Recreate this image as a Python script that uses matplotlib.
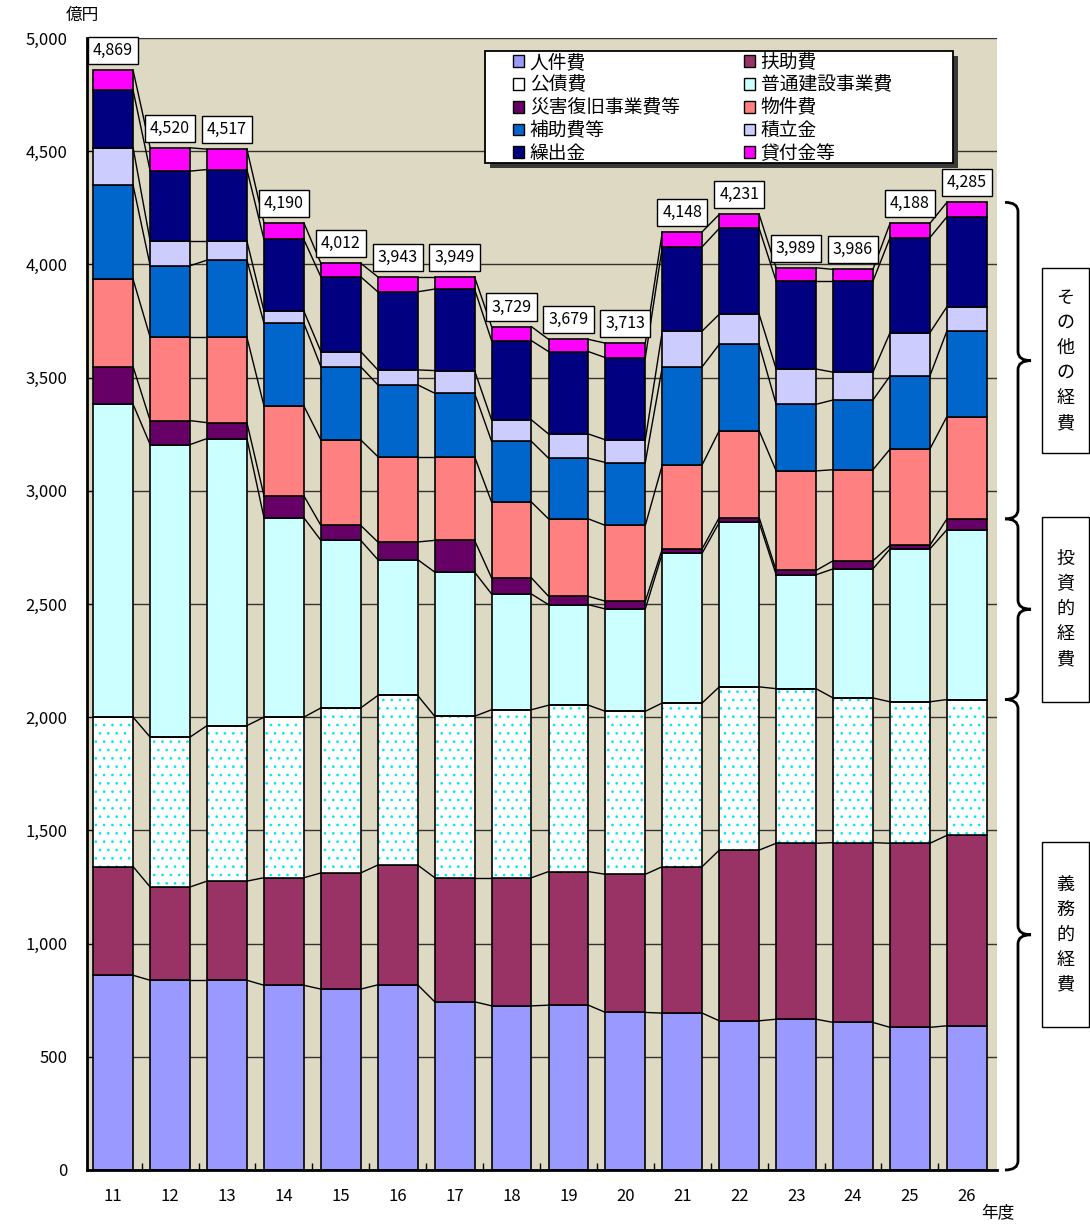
import matplotlib
matplotlib.use('Agg')
import matplotlib.pyplot as plt
from matplotlib.patches import Rectangle, PathPatch
from matplotlib.path import Path
import matplotlib.transforms as mtransforms
import numpy as np

plt.rcParams['font.family'] = ['Noto Sans CJK JP', 'DejaVu Sans']
plt.rcParams['hatch.linewidth'] = 0.7

years = ['11', '12', '13', '14', '15', '16', '17', '18', '19', '20',
         '21', '22', '23', '24', '25', '26']
categories = ['人件費', '扶助費', '公債費', '普通建設事業費', '災害復旧事業費等',
              '物件費', '補助費等', '積立金', '繰出金', '貸付金等']

jinken = [860, 838, 838, 816, 799, 818, 743, 725, 728, 696, 693, 659, 666, 652, 630, 637]
fujo = [480, 412, 438, 475, 513, 529, 548, 566, 590, 610, 647, 754, 777, 794, 813, 841]
kosai = [660, 662, 687, 709, 729, 749, 713, 742, 735, 720, 723, 721, 683, 639, 625, 600]
futsu = [1382, 1292, 1268, 881, 740, 600, 637, 511, 444, 452, 662, 726, 503, 570, 675, 750]
saigai = [166, 106, 70, 97, 66, 78, 140, 71, 37, 34, 19, 22, 19, 36, 16, 48]
buppin = [386, 368, 377, 397, 378, 377, 370, 335, 342, 335, 371, 384, 440, 402, 425, 452]
hojo = [416, 316, 341, 365, 323, 317, 280, 268, 268, 278, 433, 381, 294, 308, 323, 378]
tsumitate = [165, 109, 84, 54, 67, 66, 100, 95, 107, 100, 158, 133, 156, 123, 191, 107]
kuridashi = [254, 309, 316, 316, 330, 345, 360, 350, 364, 363, 372, 379, 388, 402, 420, 397]
kashitsuke = [88, 103, 90, 74, 60, 66, 54, 62, 54, 64, 66, 62, 59, 52, 63, 64]
totals = [4869, 4520, 4517, 4190, 4012, 3943, 3949, 3729, 3679, 3713,
          4148, 4231, 3989, 3986, 4188, 4285]

group_labels = ['義務的経費', '投資的経費', 'その他の経費']
group_members = [[0, 1, 2], [3, 4], [5, 6, 7, 8, 9]]

series = [jinken, fujo, kosai, futsu, saigai, buppin, hojo, tsumitate, kuridashi, kashitsuke]
colors = ['#9999FF', '#993366', '#FFFFFF', '#CCFFFF', '#660066',
          '#FF8080', '#0066CC', '#CCCCFF', '#000080', '#FF00FF']

W, H = 1090, 1224
fig = plt.figure(figsize=(W / 100, H / 100), dpi=100)
ax = fig.add_axes([87 / W, 1 - 1170 / H, 910 / W, 1132 / H])
ax.set_facecolor('#DDD9C3')

def ax_frac(px, py):
    return ((px - 87) / 910, (1170 - py) / 1132)

x = np.arange(len(years))
bw = 0.70
bottom = np.zeros(len(years))
handles = []
cum_tops = []
for k, (vals, col) in enumerate(zip(series, colors)):
    vals = np.array(vals, dtype=float)
    if k == 2:
        ax.bar(x, vals, bw, bottom=bottom, color='white', edgecolor='#00E8F0',
               hatch='..', linewidth=0, zorder=3)
        ax.bar(x, vals, bw, bottom=bottom, fill=False, edgecolor='black',
               linewidth=1.2, zorder=4)
        h = Rectangle((0, 0), 1, 1, facecolor='white', edgecolor='black', linewidth=1.0)
    else:
        ax.bar(x, vals, bw, bottom=bottom, color=col, edgecolor='black',
               linewidth=1.2, zorder=3)
        h = Rectangle((0, 0), 1, 1, facecolor=col, edgecolor='black', linewidth=1.0)
    handles.append(h)
    bottom = bottom + vals
    cum_tops.append(bottom.copy())

# series lines
for tops in cum_tops:
    for i in range(len(years) - 1):
        ax.plot([x[i] + bw / 2, x[i + 1] - bw / 2], [tops[i], tops[i + 1]],
                color='black', lw=1.0, zorder=2)

# total labels
for i, t in enumerate(totals):
    ax.annotate(f'{t:,}', (x[i], cum_tops[-1][i]), xytext=(0, 8),
                textcoords='offset points', ha='center', va='bottom',
                fontsize=11.5, zorder=6,
                bbox=dict(boxstyle='square,pad=0.32', facecolor='white',
                          edgecolor='black', linewidth=1.0))

ax.set_xlim(-0.46, 15.53)
ax.set_ylim(0, 5000)
ax.set_yticks(np.arange(0, 5001, 500))
ax.set_yticklabels([f'{v:,}' for v in range(0, 5001, 500)], fontsize=12)
ax.set_xticks(x)
ax.set_xticklabels(years, fontsize=12)
ax.set_xticks(x[:-1] + 0.5, minor=True)
ax.tick_params(axis='x', which='major', length=0, pad=13)
ax.tick_params(axis='x', which='minor', length=5, direction='in', width=1)
ax.tick_params(axis='y', which='major', length=4, direction='in', pad=14)
ax.yaxis.grid(True, color='#333333', lw=1.0)
ax.set_axisbelow(True)
for s in ['top', 'right']:
    ax.spines[s].set_visible(False)
for s in ['left', 'bottom']:
    ax.spines[s].set_linewidth(2.0)
    ax.spines[s].set_zorder(5)

# legend frame with shadow
lx0, ly0 = ax_frac(485, 163)
lx1, ly1 = ax_frac(953, 51)
sx, sy = 5 / 910, 5 / 1132
ax.add_patch(Rectangle((lx0 + sx, ly0 - sy), lx1 - lx0, ly1 - ly0, transform=ax.transAxes,
                       facecolor='#3a3a3a', edgecolor='none', zorder=7, clip_on=False))
ax.add_patch(Rectangle((lx0, ly0), lx1 - lx0, ly1 - ly0, transform=ax.transAxes,
                       facecolor='white', edgecolor='black', linewidth=1.3, zorder=7.1,
                       clip_on=False))

order = [0, 2, 4, 6, 8, 1, 3, 5, 7, 9]
anchor = ax_frac(513, 52)
leg = ax.legend([handles[i] for i in order], [categories[i] for i in order],
                ncol=2, loc='upper left', bbox_to_anchor=anchor,
                fontsize=13.5, frameon=False, handlelength=0.6,
                handleheight=0.6, handletextpad=0.3, labelspacing=0.09,
                columnspacing=3.4, borderpad=0, borderaxespad=0)
leg.set_zorder(8)

fig.text(82 / W, 1 - 15 / H, '億円', fontsize=12, ha='center', va='center')
fig.text(998 / W, 1 - 1213 / H, '年度', fontsize=12, ha='center', va='center')

# braces on the right with label boxes
last = len(years) - 1
cum_all = np.vstack([np.zeros(len(years))] + cum_tops)
trans = mtransforms.blended_transform_factory(fig.transFigure, ax.transData)
xa, xb, xc = 1005 / W, 1018 / W, 1031 / W
r = 40
box_w, box_h = 47, 185
for members, lab in zip(group_members, group_labels):
    y0 = cum_all[members[0], last]
    y1 = cum_all[members[-1] + 1, last]
    ym = (y0 + y1) / 2
    verts = [(xa, y1), (xb, y1), (xb, y1 - r), (xb, ym + r),
             (xb, ym), (xc, ym), (xb, ym), (xb, ym - r),
             (xb, y0 + r), (xb, y0), (xa, y0)]
    codes = [Path.MOVETO, Path.CURVE3, Path.CURVE3, Path.LINETO,
             Path.CURVE3, Path.CURVE3, Path.CURVE3, Path.CURVE3,
             Path.LINETO, Path.CURVE3, Path.CURVE3]
    pp = PathPatch(Path(verts, codes), transform=trans, fill=False,
                   edgecolor='black', lw=2.0, clip_on=False)
    fig.add_artist(pp)
    ym_px = ax.transData.transform((0, ym))[1]
    fig.add_artist(Rectangle((1042 / W, (ym_px - box_h / 2) / H), box_w / W, box_h / H,
                             transform=fig.transFigure, facecolor='white',
                             edgecolor='black', linewidth=1.0))
    fig.text(1065.5 / W, ym, '\n'.join(lab), transform=trans, fontsize=13,
             ha='center', va='center', linespacing=1.5)

fig.savefig('out.png', dpi=100)
